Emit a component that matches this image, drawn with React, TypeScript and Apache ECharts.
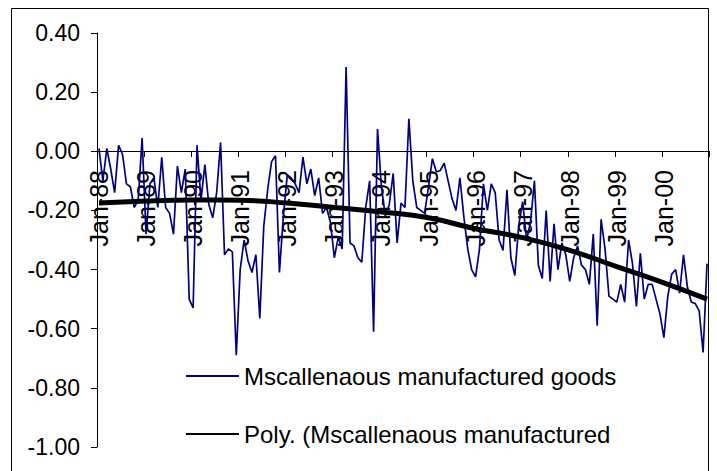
import React, { useEffect, useRef } from "react";
import * as echarts from "echarts";

const monthNames = ["Jan", "Feb", "Mar", "Apr", "May", "Jun", "Jul", "Aug", "Sep", "Oct", "Nov", "Dec"];
const years = ["88", "89", "90", "91", "92", "93", "94", "95", "96", "97", "98", "99", "00"];
const categories = years.flatMap((y) => monthNames.map((m) => `${m}-${y}`));

const seriesName = "Mscallenaous manufactured goods";
const trendName = "Poly. (Mscallenaous manufactured";

const values = [
  // 1988
  0.01, -0.10, 0.01, -0.06, -0.14, 0.02, -0.01, -0.11, -0.12, -0.19, -0.165, 0.045,
  // 1989
  -0.28, -0.11, -0.09, -0.19, -0.02, -0.19, -0.21, -0.28, -0.05, -0.14, -0.06, -0.50,
  // 1990
  -0.53, 0.02, -0.165, -0.045, -0.18, -0.225, -0.14, 0.03, -0.35, -0.33, -0.34, -0.69,
  // 1991
  -0.40, -0.30, -0.37, -0.41, -0.35, -0.565, -0.255, -0.13, -0.035, -0.015, -0.41, -0.22,
  // 1992
  -0.08, -0.09, -0.11, -0.14, -0.02, -0.11, -0.06, -0.15, -0.09, -0.21, -0.19, -0.24,
  // 1993
  -0.36, -0.29, -0.33, 0.285, -0.31, -0.32, -0.36, -0.375, -0.19, -0.10, -0.61, 0.075,
  // 1994
  -0.12, -0.22, -0.18, -0.075, -0.31, -0.175, -0.19, 0.11, -0.10, -0.19, -0.20, -0.21,
  // 1995
  -0.12, -0.025, -0.07, -0.065, -0.04, -0.10, -0.16, -0.20, -0.09, -0.22, -0.33, -0.40,
  // 1996
  -0.425, -0.33, -0.11, -0.20, -0.11, -0.14, -0.30, -0.335, -0.13, -0.36, -0.42, -0.25,
  // 1997
  -0.17, -0.30, -0.24, -0.10, -0.385, -0.43, -0.20, -0.44, -0.245, -0.40, -0.31, -0.35,
  // 1998
  -0.44, -0.36, -0.32, -0.385, -0.40, -0.45, -0.28, -0.59, -0.23, -0.33, -0.49, -0.50,
  // 1999
  -0.51, -0.45, -0.51, -0.30, -0.38, -0.525, -0.345, -0.50, -0.45, -0.45, -0.50, -0.55,
  // 2000
  -0.63, -0.49, -0.415, -0.40, -0.48, -0.35, -0.46, -0.51, -0.515, -0.54, -0.68, -0.38,
];

// polynomial trend read at each January and at the last month
const trendAnchorIndex = [0, 12, 24, 36, 48, 60, 72, 84, 96, 108, 120, 132, 144, 155];
const trendValues = [-0.175, -0.168, -0.165, -0.166, -0.175, -0.19, -0.205, -0.225, -0.262, -0.292, -0.335, -0.39, -0.445, -0.50];

const FONT = "'Liberation Sans', Arial, sans-serif";

export default function App() {
  const ref = useRef<HTMLDivElement>(null);
  useEffect(() => {
    const chart = echarts.init(ref.current!, null, { renderer: "svg" });
    const trendData: (number | null)[] = categories.map(() => null);
    trendAnchorIndex.forEach((idx, k) => {
      trendData[idx] = trendValues[k];
    });
    chart.setOption({
      animation: false,
      backgroundColor: "#ffffff",
      grid: { left: 97, right: 8, top: 33, bottom: 24, containLabel: false, outerBoundsMode: "none" },
      graphic: [
        {
          type: "rect",
          z: -10,
          shape: { x: 11.5, y: 8.5, width: 697, height: 480 },
          style: { fill: "none", stroke: "#000", lineWidth: 1 },
          silent: true,
        },
      ],
      legend: {
        data: [seriesName, trendName],
        orient: "vertical",
        left: 180,
        top: 359,
        itemWidth: 53,
        itemHeight: 12,
        itemGap: 34,
        itemStyle: { opacity: 0 },
        textStyle: { fontSize: 24, color: "#000", fontFamily: FONT },
      },
      xAxis: {
        type: "category",
        data: categories,
        boundaryGap: true,
        offset: -296,
        axisLine: { onZero: false, lineStyle: { color: "#000", width: 1 } },
        axisTick: { show: true, interval: 11, length: 6, lineStyle: { color: "#000" } },
        axisLabel: {
          interval: 11,
          rotate: 90,
          margin: 19,
          fontSize: 25,
          color: "#000",
          fontFamily: FONT,
        },
        splitLine: { show: false },
      },
      yAxis: {
        type: "value",
        min: -1,
        max: 0.4,
        interval: 0.2,
        axisLine: { show: true, lineStyle: { color: "#000", width: 1 } },
        axisTick: { show: true, length: 6, lineStyle: { color: "#000" } },
        axisLabel: {
          margin: 17,
          fontSize: 23,
          color: "#000",
          fontFamily: FONT,
          formatter: (v: number) => (Math.abs(v) < 1e-9 ? "0.00" : v.toFixed(2)),
        },
        splitLine: { show: false },
      },
      series: [
        {
          name: seriesName,
          type: "line",
          data: values,
          symbol: "none",
          color: "#000080",
          lineStyle: { color: "#000080", width: 1.7 },
          z: 3,
        },
        {
          name: trendName,
          type: "line",
          data: trendData,
          connectNulls: true,
          smooth: true,
          symbol: "none",
          color: "#000",
          lineStyle: { color: "#000", width: 5 },
          z: 4,
        },
      ],
    });
    return () => chart.dispose();
  }, []);
  return (
    <div
      ref={ref}
      style={{ position: "fixed", left: 0, top: 0, width: 717, height: 471, background: "#fff" }}
    />
  );
}
